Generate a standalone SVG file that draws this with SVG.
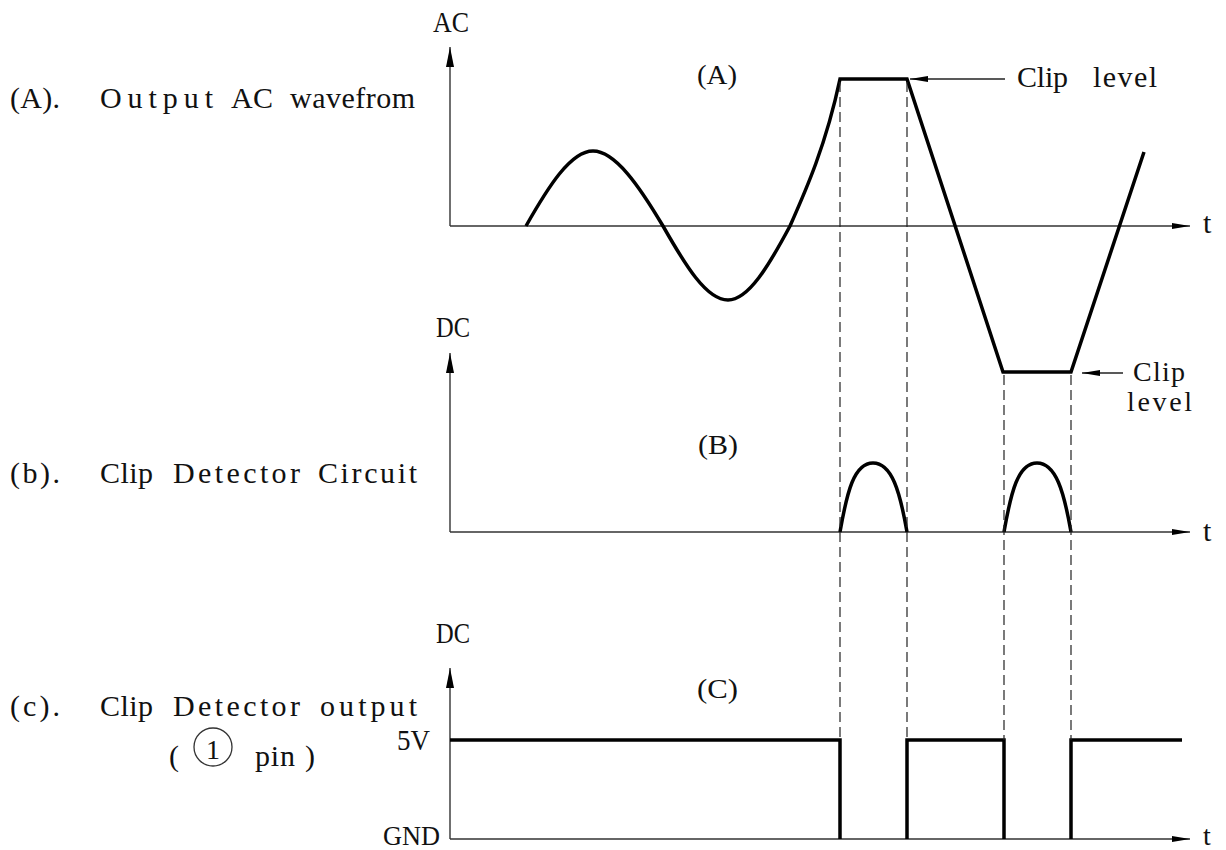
<svg xmlns="http://www.w3.org/2000/svg" width="1226" height="850" viewBox="0 0 1226 850">
<style>
text{font-family:"Liberation Serif","Times New Roman",serif;fill:#111}
.lbl{font-size:30px}
.sm{font-size:28px}
.axis{stroke:#333;stroke-width:1.4;fill:none}
.wave{stroke:#000;stroke-width:3.5;fill:none;stroke-linejoin:miter}
.dash{stroke:#222;stroke-width:1.2;stroke-dasharray:10 5;fill:none}
.ptr{stroke:#222;stroke-width:1.3;fill:none}
</style>
<defs>
<marker id="ah" viewBox="0 0 18 8" refX="18" refY="4" markerWidth="18" markerHeight="8" markerUnits="userSpaceOnUse" orient="auto">
<path d="M0,1 L18,4 L0,7 Z" fill="#000"/>
</marker>
<marker id="av" viewBox="0 0 20 9" refX="20" refY="4.5" markerWidth="20" markerHeight="9" markerUnits="userSpaceOnUse" orient="auto">
<path d="M0,0.5 L20,4.5 L0,8.5 Z" fill="#000"/>
</marker>
</defs>

<g id="labels">
<text class="lbl" y="108"><tspan x="10" textLength="50" lengthAdjust="spacing">(A).</tspan><tspan x="100" textLength="113" lengthAdjust="spacing">Output</tspan><tspan x="231" textLength="42" lengthAdjust="spacing">AC</tspan><tspan x="290" textLength="125" lengthAdjust="spacing">wavefrom</tspan></text>
<text class="lbl" y="483"><tspan x="10" textLength="50" lengthAdjust="spacing">(b).</tspan><tspan x="100" textLength="53" lengthAdjust="spacing">Clip</tspan><tspan x="173" textLength="127" lengthAdjust="spacing">Detector</tspan><tspan x="318" textLength="99" lengthAdjust="spacing">Circuit</tspan></text>
<text class="lbl" y="716"><tspan x="10" textLength="50" lengthAdjust="spacing">(c).</tspan><tspan x="100" textLength="53" lengthAdjust="spacing">Clip</tspan><tspan x="173" textLength="127" lengthAdjust="spacing">Detector</tspan><tspan x="320" textLength="97" lengthAdjust="spacing">output</tspan></text>
<g id="pin">
<text class="lbl" x="169" y="766">(</text>
<circle cx="213" cy="747" r="19" fill="none" stroke="#333" stroke-width="1.3"/>
<text class="sm" x="213" y="759" text-anchor="middle">1</text>
<text class="lbl" y="766"><tspan x="255" textLength="40" lengthAdjust="spacing">pin</tspan><tspan x="305">)</tspan></text>
</g>
</g>

<g id="chartA">
<text class="lbl" x="433" y="32" textLength="36" lengthAdjust="spacingAndGlyphs">AC</text>
<text class="sm" x="697" y="84" textLength="40" lengthAdjust="spacingAndGlyphs">(A)</text>
<text class="lbl" x="1203" y="233">t</text>
<line class="axis" x1="450" y1="226" x2="450" y2="47" marker-end="url(#av)"/>
<line class="axis" x1="450" y1="226" x2="1190" y2="226" marker-end="url(#ah)"/>
<path class="wave" d="M526,226 C548.3,186.7 570.7,151 593,151 C615.3,151 639.7,186.7 663,226 C685,264.7 706.3,300 728,300 C748.7,300 769.3,264.7 790,226 C806,190 826,145 840,79 L907,79 L1003,372 L1071,372 L1144,152"/>
<line class="ptr" x1="1005" y1="79" x2="910" y2="79" marker-end="url(#ah)"/>
<text class="lbl" y="87"><tspan x="1017" textLength="51" lengthAdjust="spacing">Clip</tspan><tspan x="1093" textLength="64" lengthAdjust="spacing">level</tspan></text>
<line class="ptr" x1="1123" y1="373" x2="1082" y2="373" marker-end="url(#ah)"/>
<text class="sm" x="1133" y="381" textLength="52" lengthAdjust="spacing">Clip</text>
<text class="sm" x="1127" y="411" textLength="65" lengthAdjust="spacing">level</text>
</g>

<g id="chartB">
<text class="lbl" x="436" y="337" textLength="34" lengthAdjust="spacingAndGlyphs">DC</text>
<text class="sm" x="698" y="454" textLength="40" lengthAdjust="spacingAndGlyphs">(B)</text>
<text class="lbl" x="1203" y="541">t</text>
<line class="axis" x1="450" y1="532" x2="450" y2="353" marker-end="url(#av)"/>
<line class="axis" x1="450" y1="532" x2="1190" y2="532" marker-end="url(#ah)"/>
<path class="wave" d="M840,532 C847,492 854,463 873,463 C892,463 900,492 907,532"/>
<path class="wave" d="M1004,532 C1011,492 1018,463 1037,463 C1056,463 1064,492 1071,532"/>
</g>

<g id="chartC">
<text class="lbl" x="436" y="643" textLength="34" lengthAdjust="spacingAndGlyphs">DC</text>
<text class="sm" x="697" y="698" textLength="41" lengthAdjust="spacingAndGlyphs">(C)</text>
<text class="lbl" x="397" y="750" textLength="33" lengthAdjust="spacingAndGlyphs">5V</text>
<text class="sm" x="383" y="845" textLength="57" lengthAdjust="spacingAndGlyphs">GND</text>
<text class="sm" x="1203" y="845">t</text>
<line class="axis" x1="450" y1="839" x2="450" y2="668" marker-end="url(#av)"/>
<line class="axis" x1="450" y1="839" x2="1190" y2="839" marker-end="url(#ah)"/>
<path class="wave" d="M450,740 H840 V839 M907,839 V740 H1004 V839 M1071,839 V740 H1182"/>
</g>

<g id="connectors">
<line class="dash" x1="840" y1="82" x2="840" y2="740"/>
<line class="dash" x1="907" y1="82" x2="907" y2="740"/>
<line class="dash" x1="1004" y1="375" x2="1004" y2="740"/>
<line class="dash" x1="1071" y1="375" x2="1071" y2="740"/>
</g>
</svg>
